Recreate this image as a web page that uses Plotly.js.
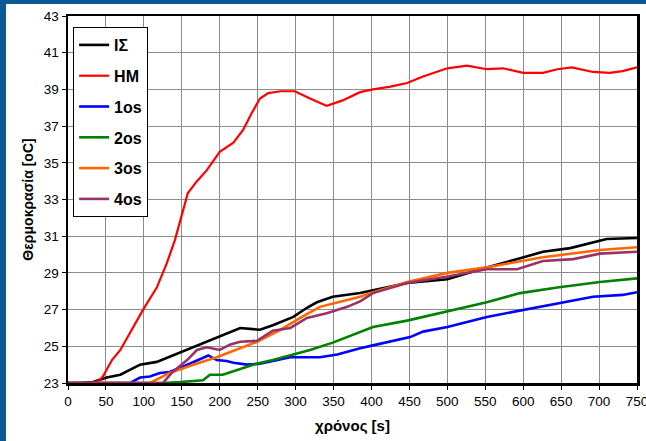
<!DOCTYPE html>
<html>
<head>
<meta charset="utf-8">
<script src="https://cdn.plot.ly/plotly-3.0.1.min.js"></script>
<style>
html,body{margin:0;padding:0;background:#0c5a94;width:646px;height:441px;overflow:hidden;}
#chart{position:absolute;left:6px;top:4px;width:640px;height:437px;background:#fff;}
</style>
</head>
<body>
<div id="chart"></div>
<script>
// Series names
const names = ["IΣ", "HM", "1os", "2os", "3os", "4os"];
const colors = ["#000000", "#ff0000", "#0000ff", "#008000", "#ff6600", "#993366"];

// IΣ
const tIS = [0, 16, 33, 51, 69, 95, 117, 138, 165, 196, 218, 227, 253, 270, 297, 315, 328, 349, 385, 402, 447, 500, 552, 596, 626, 662, 710, 750];
const yIS = [23, 23, 23.05, 23.3, 23.45, 24.0, 24.15, 24.5, 24.95, 25.45, 25.85, 26.0, 25.9, 26.15, 26.6, 27.1, 27.4, 27.7, 27.9, 28.05, 28.45, 28.65, 29.3, 29.8, 30.15, 30.35, 30.85, 30.9];

// HM
const tHM = [0, 29, 40, 46, 52, 58, 69, 84, 99, 117, 130, 141, 148, 158, 170, 183, 200, 218, 231, 242, 253, 264, 280, 299, 319, 341, 362, 385, 402, 425, 447, 468, 500, 526, 552, 573, 600, 626, 645, 664, 692, 714, 731, 750];
const yHM = [23, 23, 23.1, 23.35, 23.8, 24.25, 24.8, 25.9, 27.0, 28.2, 29.5, 30.8, 31.9, 33.35, 34.0, 34.6, 35.6, 36.1, 36.8, 37.7, 38.5, 38.8, 38.9, 38.9, 38.5, 38.1, 38.4, 38.85, 39.0, 39.15, 39.35, 39.7, 40.15, 40.3, 40.1, 40.15, 39.9, 39.9, 40.1, 40.2, 39.95, 39.9, 40.0, 40.2];

// 1os
const t1 = [0, 49, 82, 95, 108, 121, 134, 152, 165, 185, 196, 209, 218, 236, 253, 280, 293, 306, 332, 355, 385, 402, 451, 468, 500, 552, 596, 626, 666, 692, 731, 750];
const y1 = [23, 23, 23.0, 23.3, 23.35, 23.55, 23.6, 23.9, 24.15, 24.5, 24.25, 24.2, 24.1, 24.0, 24.05, 24.3, 24.4, 24.4, 24.4, 24.55, 24.9, 25.05, 25.5, 25.8, 26.05, 26.6, 26.95, 27.2, 27.5, 27.7, 27.8, 27.95];

// 2os
const t2 = [0, 86, 125, 148, 178, 187, 204, 222, 244, 270, 293, 319, 349, 385, 402, 447, 500, 552, 596, 645, 701, 750];
const y2 = [23, 23, 23.0, 23.05, 23.15, 23.45, 23.45, 23.7, 24.0, 24.25, 24.5, 24.8, 25.2, 25.75, 26.05, 26.4, 26.9, 27.4, 27.9, 28.2, 28.5, 28.7];

// 3os
const t3 = [0, 73, 108, 134, 165, 196, 222, 249, 280, 306, 332, 358, 385, 402, 447, 500, 552, 578, 626, 701, 750];
const y3 = [23, 23, 23, 23.55, 24.0, 24.4, 24.8, 25.25, 25.9, 26.55, 27.15, 27.4, 27.7, 27.95, 28.5, 29.0, 29.3, 29.5, 29.85, 30.25, 30.4];

// 4os
const t4 = [0, 84, 125, 138, 157, 170, 183, 200, 214, 227, 249, 270, 293, 315, 341, 368, 385, 402, 447, 500, 552, 592, 626, 666, 701, 750];
const y4 = [23, 23, 23, 23.6, 24.25, 24.8, 24.95, 24.8, 25.1, 25.25, 25.3, 25.85, 26.0, 26.55, 26.8, 27.15, 27.45, 27.9, 28.45, 28.8, 29.2, 29.2, 29.65, 29.75, 30.05, 30.15];

// Axis ticks
const xTicks = [0, 50, 100, 150, 200, 250, 300, 350, 400, 450, 500, 550, 600, 650, 700, 750];
const yTicks = [23, 25, 27, 29, 31, 33, 35, 37, 39, 41, 43];

const xs = [tIS, tHM, t1, t2, t3, t4];
const ys = [yIS, yHM, y1, y2, y3, y4];

const traces = names.map((n, i) => ({
  x: xs[i], y: ys[i], name: n, type: "scatter", mode: "lines",
  legendgroup: "g" + i,
  line: {color: colors[i], width: i === 1 ? 2.2 : 2.6, shape: "linear"},
  cliponaxis: true
}));

const font = "Liberation Sans, Arial, sans-serif";

const layout = {
  width: 640, height: 437,
  margin: {l: 62, r: 9, t: 12, b: 58},
  paper_bgcolor: "#ffffff", plot_bgcolor: "#ffffff",
  font: {family: font, color: "#000", size: 13},
  showlegend: true,
  legend: {
    x: 0.009, y: 0.97, xanchor: "left", yanchor: "top",
    bgcolor: "#ffffff", bordercolor: "#000", borderwidth: 1,
    font: {family: font, size: 16, color: "#000", weight: "bold"},
    traceorder: "grouped", tracegroupgap: 7
  },
  xaxis: {
    range: [0, 750], tickvals: xTicks, ticktext: xTicks.map(String),
    showgrid: true, gridcolor: "#8c8c8c", gridwidth: 1,
    showline: true, linecolor: "#000", linewidth: 2.5, mirror: true,
    ticks: "outside", ticklen: 4, tickcolor: "#000",
    zeroline: false, ticklabeloverflow: "allow",
    tickfont: {size: 13.5, family: font},
    title: {text: "χρόνος [s]", font: {size: 15, family: font, weight: "bold"}, standoff: 13}
  },
  yaxis: {
    range: [23, 43], tickvals: yTicks, ticktext: yTicks.map(String),
    showgrid: true, gridcolor: "#8c8c8c", gridwidth: 1,
    showline: true, linecolor: "#000", linewidth: 2.5, mirror: true,
    ticks: "outside", ticklen: 4, tickcolor: "#000",
    zeroline: false, ticklabeloverflow: "allow",
    tickfont: {size: 13.5, family: font},
    title: {text: "Θερμοκρασία [oC]", font: {size: 14, family: font, weight: "bold"}, standoff: 7}
  }
};

Plotly.newPlot("chart", traces, layout, {displayModeBar: false, staticPlot: true});
</script>
</body>
</html>
